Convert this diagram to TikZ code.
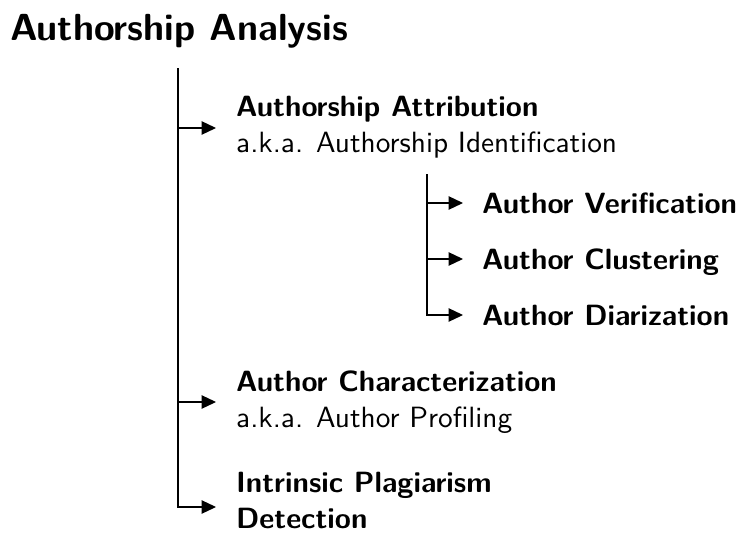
\documentclass[tikz,border=0pt]{standalone}
\usetikzlibrary{arrows.meta}
\DeclareFontFamily{TU}{lmsx}{}
\DeclareFontShape{TU}{lmsx}{m}{n}{<-> "[lmsans10-regular]:+tlig;"}{}
\DeclareFontShape{TU}{lmsx}{bx}{n}{<-> "[lmsans10-bold]:+tlig;"}{}
\DeclareFontShape{TU}{lmsx}{b}{n}{<-> ssub * lmsx/bx/n}{}
\newcommand\bodyfont{\fontfamily{lmsx}\fontseries{m}\fontsize{29.3}{35.5}\selectfont}
\newcommand\hdfont{\fontfamily{lmsx}\fontseries{bx}\fontsize{29.3}{35.5}\selectfont}
\begin{document}
\begin{tikzpicture}[x=1pt,y=-1pt,
  conn/.style={line width=1.25pt,-{Triangle[length=14.5pt,width=13.5pt]}},
  trunk/.style={line width=1.25pt},
  lbl/.style={anchor=base west,inner sep=0pt,align=left,font=\bodyfont},
  sub/.style={lbl,font=\hdfont},
  ttl/.style={anchor=base west,inner sep=0pt,font=\fontfamily{lmsx}\fontseries{bx}\fontsize{37.7}{40}\selectfont}]
\useasboundingbox (0,0) rectangle (742,533);
\node[ttl] (title) at (10,40) {Authorship Analysis};
% main trunk
\coordinate (top) at (178,68);
\coordinate (eAttr) at (216,128);
\coordinate (eChar) at (216,402);
\coordinate (ePlag) at (216,507);
\node[lbl] (attr) at (236,152) {{\hdfont Authorship Attribution}\\a.k.a. Authorship Identification};
\node[lbl] (char) at (236,427) {{\hdfont Author Characterization}\\a.k.a. Author Profiling};
\node[lbl,font=\hdfont] (plag) at (236,528) {Intrinsic Plagiarism\\Detection};
\draw[trunk] (top) -- (top |- ePlag);
\draw[conn] (top) |- (eAttr);
\draw[conn] (top) |- (eChar);
\draw[conn] (top) |- (ePlag);
% sub trunk
\coordinate (stop) at (427,174);
\coordinate (eVer) at (463,203);
\coordinate (eClu) at (463,259);
\coordinate (eDia) at (463,315);
\node[sub] (ver) at (482,213) {Author Verification};
\node[sub] (clu) at (482,269) {Author Clustering};
\node[sub] (dia) at (482,325) {Author Diarization};
\draw[conn] (stop) |- (eVer);
\draw[conn] (stop) |- (eClu);
\draw[conn] (stop) |- (eDia);
\end{tikzpicture}
\end{document}
